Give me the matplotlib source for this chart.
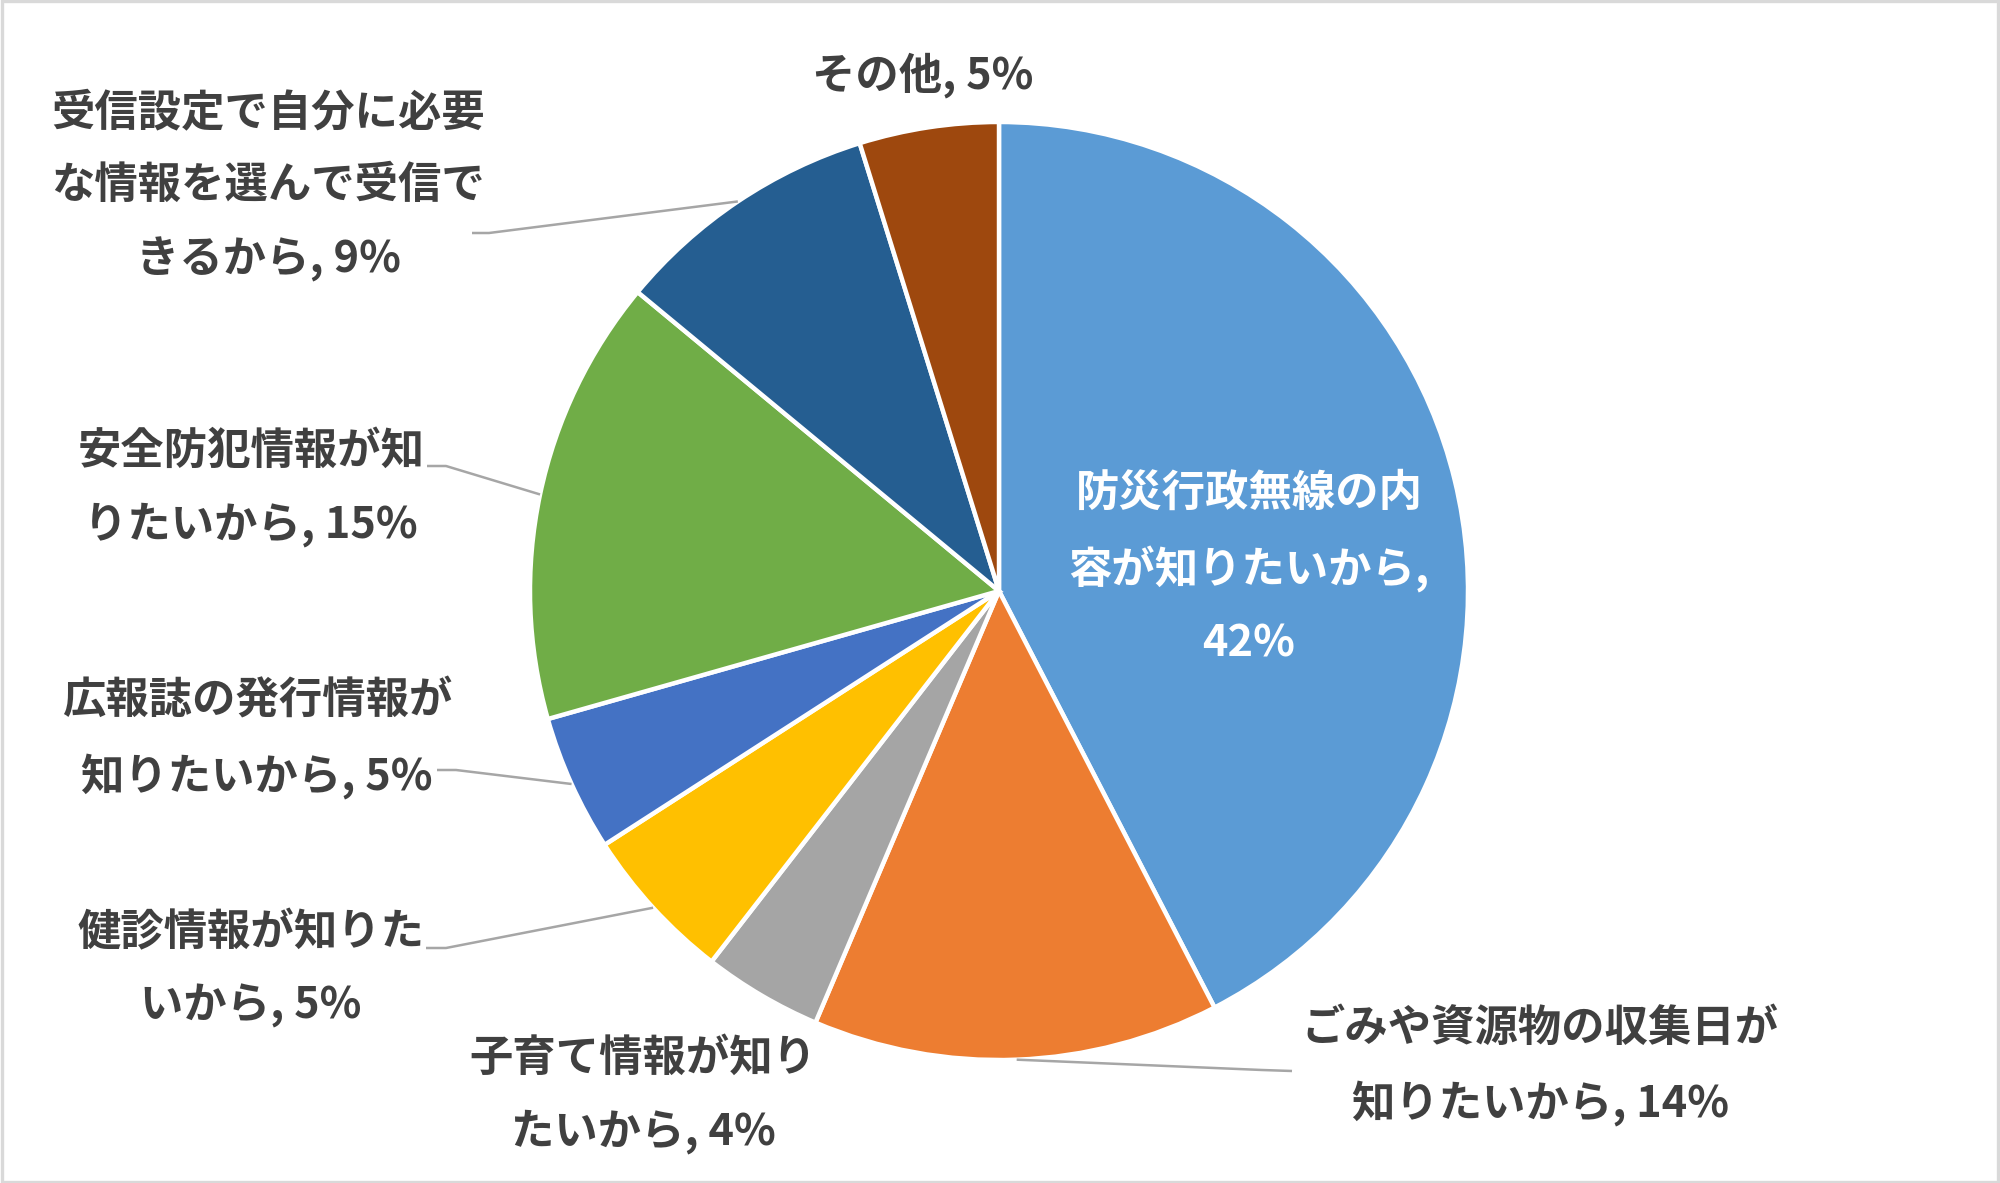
import numpy as np
import matplotlib
matplotlib.use("Agg")
import matplotlib.pyplot as plt
from matplotlib.patches import Rectangle

plt.rcParams['font.family'] = ['Noto Sans CJK JP', 'DejaVu Sans']

# data (percent of respondents), clockwise from 12 o'clock
categories = [
    "防災行政無線の内\n容が知りたいから,",
    "ごみや資源物の収集日が\n知りたいから,",
    "子育て情報が知り\nたいから,",
    "健診情報が知りた\nいから,",
    "広報誌の発行情報が\n知りたいから,",
    "安全防犯情報が知\nりたいから,",
    "受信設定で自分に必要\nな情報を選んで受信で\nきるから,",
    "その他,",
]
values = [42.4, 14.0, 4.1, 5.4, 4.7, 15.4, 9.2, 4.8]
colors = ["#5B9BD5", "#ED7D31", "#A5A5A5", "#FFC000",
          "#4472C4", "#70AD47", "#255E91", "#9E480E"]

W, H = 2000, 1183
CX, CY, R = 999, H - 591, 469

# label centres in pixel coords (from top-left), leader elbow / end
label_pos = [(1249, 568), (1540, 1066), (643, 1095), (251, 969),
             (257, 739), (251, 488), (268, 186), (923, 75)]
leaders = {1: [(1262, 1070), (1292, 1071)],
           3: [(446, 948), (426, 948)],
           4: [(456, 770), (437, 770)],
           5: [(446, 466), (427, 466)],
           6: [(489, 233), (472, 233)]}

fig = plt.figure(figsize=(10, 5.915), dpi=200)
ax = fig.add_axes([0, 0, 1, 1])

wedges, _ = ax.pie(values, colors=colors, startangle=90, counterclock=False,
                   center=(CX, CY), radius=R, frame=True,
                   wedgeprops=dict(edgecolor="white", linewidth=1.6))
ax.set_xlim(0, W)
ax.set_ylim(0, H)
ax.set_aspect("equal")
ax.axis("off")

# leader lines from wedge mid-angle on the rim
for i, w in enumerate(wedges):
    if i not in leaders:
        continue
    mid = np.deg2rad((w.theta1 + w.theta2) / 2)
    rx, ry = CX + R * np.cos(mid), CY + R * np.sin(mid)
    pts = [(rx, ry)] + [(x, H - y) for x, y in leaders[i]]
    xs, ys = zip(*pts)
    ax.plot(xs, ys, color="#A6A6A6", lw=0.9, solid_capstyle="butt")

for i, (cat, v) in enumerate(zip(categories, values)):
    x, y = label_pos[i]
    pct = f"{round(v)}%"
    txt = cat + ("\n" + pct if i == 0 else " " + pct)
    ax.text(x, H - y, txt, ha="center", va="center", multialignment="center",
            fontsize=15.6, fontweight="bold", linespacing=1.83,
            color="white" if i == 0 else "#404040")

fig.patches.append(Rectangle((0.001, 0.001), 0.998, 0.998, transform=fig.transFigure,
                             fill=False, edgecolor="#D9D9D9", linewidth=1.2))

fig.savefig("out.png", dpi=200, facecolor="white")
